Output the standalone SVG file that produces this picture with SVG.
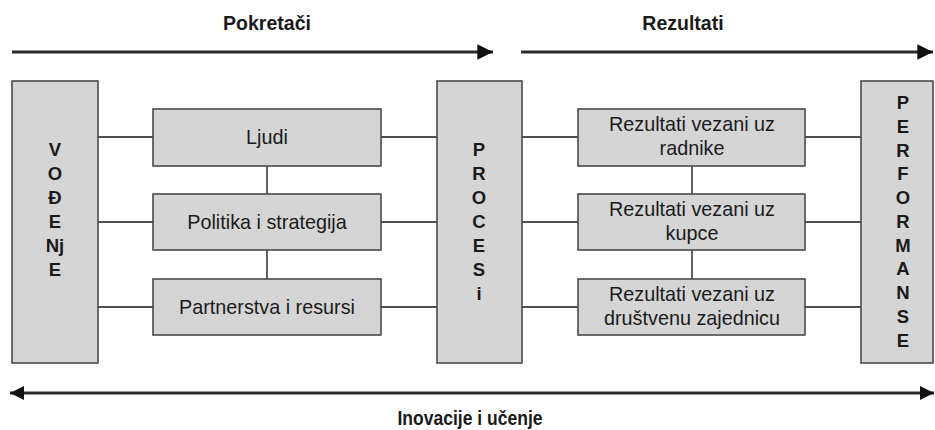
<svg xmlns="http://www.w3.org/2000/svg" width="935" height="430" viewBox="0 0 935 430">
<defs>
<style>
.box{fill:#d5d5d5;stroke:#4a4a4a;stroke-width:1.6}
.con{stroke:#505050;stroke-width:1.8;fill:none}
.arr{stroke:#2a2a2a;stroke-width:2.8;fill:none}
.t{font-family:"Liberation Sans",Arial,sans-serif;font-size:19.8px;fill:#1a1a1a;text-anchor:middle}
.b{font-family:"Liberation Sans",Arial,sans-serif;font-size:18.5px;font-weight:bold;fill:#1a1a1a;text-anchor:middle}
.h{font-family:"Liberation Sans",Arial,sans-serif;font-size:19.5px;font-weight:bold;fill:#1a1a1a;text-anchor:middle}
</style>
<marker id="ah" viewBox="0 0 10 10" refX="10" refY="5" markerWidth="7.5" markerHeight="5.6" markerUnits="strokeWidth" orient="auto-start-reverse">
<path d="M0,0 L10,5 L0,10 z" fill="#111"/>
</marker>
<marker id="ah2" viewBox="0 0 10 10" refX="10" refY="5" markerWidth="5.5" markerHeight="5" markerUnits="strokeWidth" orient="auto-start-reverse">
<path d="M0,0 L10,5 L0,10 z" fill="#111"/>
</marker>
</defs>

<g id="connectors">
<line class="arr" x1="12" y1="52" x2="493" y2="52" marker-end="url(#ah)"/>
<line class="arr" x1="521" y1="52" x2="933" y2="52" marker-end="url(#ah)"/>
<line class="arr" x1="10" y1="393" x2="934" y2="393" marker-start="url(#ah2)" marker-end="url(#ah2)"/>
<line class="con" x1="98" y1="137" x2="153" y2="137"/>
<line class="con" x1="98" y1="222" x2="153" y2="222"/>
<line class="con" x1="98" y1="307" x2="153" y2="307"/>
<line class="con" x1="381" y1="137" x2="437" y2="137"/>
<line class="con" x1="381" y1="222" x2="437" y2="222"/>
<line class="con" x1="381" y1="307" x2="437" y2="307"/>
<line class="con" x1="267" y1="166" x2="267" y2="194"/>
<line class="con" x1="267" y1="250" x2="267" y2="279"/>
<line class="con" x1="522" y1="137" x2="578" y2="137"/>
<line class="con" x1="522" y1="222" x2="578" y2="222"/>
<line class="con" x1="522" y1="307" x2="578" y2="307"/>
<line class="con" x1="805" y1="137" x2="861" y2="137"/>
<line class="con" x1="805" y1="222" x2="861" y2="222"/>
<line class="con" x1="805" y1="307" x2="861" y2="307"/>
<line class="con" x1="692" y1="166" x2="692" y2="194"/>
<line class="con" x1="692" y1="250" x2="692" y2="279"/>
</g>

<g id="labels">
<text class="h" x="267" y="30">Pokretači</text>
<text class="h" x="683" y="30">Rezultati</text>
<text class="h" x="470" y="425" textLength="145" lengthAdjust="spacingAndGlyphs">Inovacije i učenje</text>
</g>

<g id="vodjenje">
<rect class="box" x="12" y="81" width="86" height="282"/>
<text class="b" x="55" y="156">V</text>
<text class="b" x="55" y="180">O</text>
<text class="b" x="55" y="204">Đ</text>
<text class="b" x="55" y="228">E</text>
<text class="b" x="55" y="252">Nj</text>
<text class="b" x="55" y="276">E</text>
</g>

<g id="ljudi">
<rect class="box" x="153" y="109" width="228" height="57"/>
<text class="t" x="267" y="144">Ljudi</text>
</g>
<g id="politika">
<rect class="box" x="153" y="194" width="228" height="56"/>
<text class="t" x="267" y="229">Politika i strategija</text>
</g>
<g id="partnerstva">
<rect class="box" x="153" y="279" width="228" height="56"/>
<text class="t" x="267" y="314">Partnerstva i resursi</text>
</g>

<g id="procesi">
<rect class="box" x="437" y="81" width="85" height="282"/>
<text class="b" x="479" y="156">P</text>
<text class="b" x="479" y="180">R</text>
<text class="b" x="479" y="204">O</text>
<text class="b" x="479" y="228">C</text>
<text class="b" x="479" y="252">E</text>
<text class="b" x="479" y="276">S</text>
<text class="b" x="479" y="300">i</text>
</g>

<g id="rez-radnike">
<rect class="box" x="578" y="109" width="227" height="57"/>
<text class="t" x="692" y="131">Rezultati vezani uz</text>
<text class="t" x="692" y="155">radnike</text>
</g>
<g id="rez-kupce">
<rect class="box" x="578" y="194" width="227" height="56"/>
<text class="t" x="692" y="216">Rezultati vezani uz</text>
<text class="t" x="692" y="240">kupce</text>
</g>
<g id="rez-zajednica">
<rect class="box" x="578" y="279" width="227" height="56"/>
<text class="t" x="692" y="301">Rezultati vezani uz</text>
<text class="t" x="692" y="325">društvenu zajednicu</text>
</g>

<g id="performanse">
<rect class="box" x="861" y="81" width="72" height="282"/>
<text class="b" x="903" y="109">P</text>
<text class="b" x="903" y="133">E</text>
<text class="b" x="903" y="157">R</text>
<text class="b" x="903" y="180">F</text>
<text class="b" x="903" y="204">O</text>
<text class="b" x="903" y="228">R</text>
<text class="b" x="903" y="252">M</text>
<text class="b" x="903" y="275">A</text>
<text class="b" x="903" y="299">N</text>
<text class="b" x="903" y="323">S</text>
<text class="b" x="903" y="347">E</text>
</g>
</svg>
